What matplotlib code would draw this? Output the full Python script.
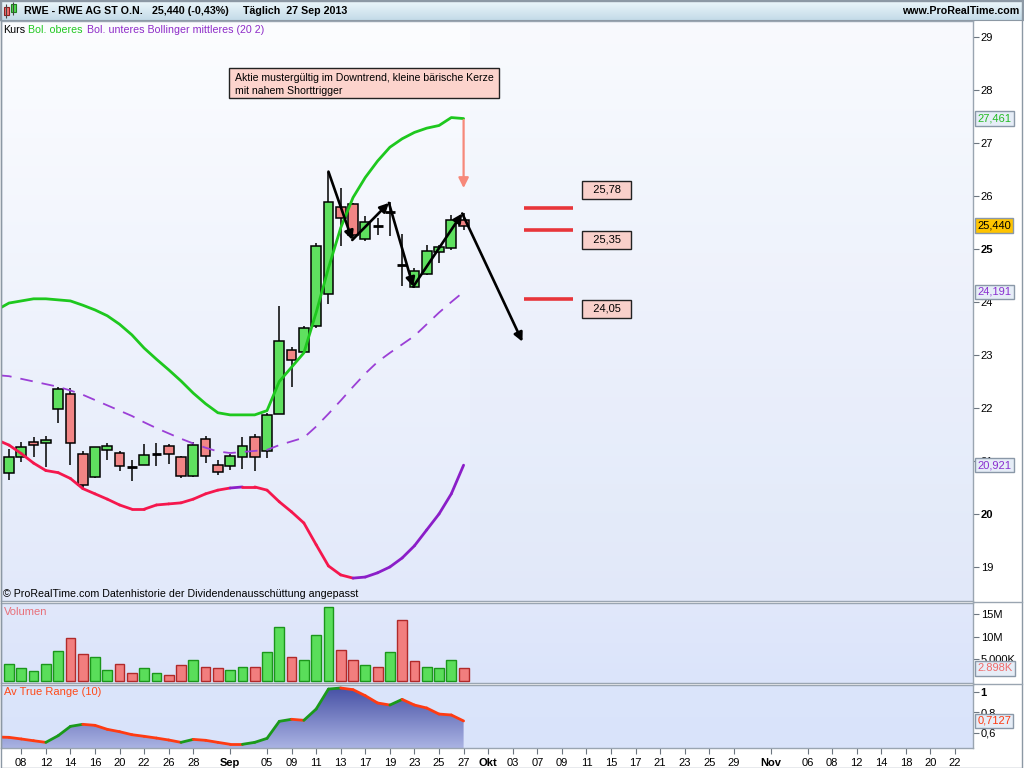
import numpy as np
import matplotlib
matplotlib.use("Agg")
import matplotlib.pyplot as plt
from matplotlib.collections import LineCollection
from matplotlib.patches import Rectangle, Polygon
from matplotlib.transforms import blended_transform_factory, offset_copy
from matplotlib.colors import LinearSegmentedColormap

plt.rcParams['font.family'] = ['Liberation Sans', 'DejaVu Sans']

# ---------------- data (trading days 07.08.2013 - 27.09.2013) ----------------
opens = [20.77, 21.08, 21.35, 21.33, 21.99, 22.26, 21.13, 20.69, 21.21, 21.15,
         20.89, 20.92, 21.14, 21.29, 21.07, 20.72, 21.41, 20.92, 20.90, 21.07,
         21.45, 21.19, 21.89, 23.09, 23.05, 23.54, 24.15, 25.79, 25.84, 25.18,
         25.44, 25.69, 24.69, 24.28, 24.52, 24.94, 25.01, 25.55]
highs = [21.22, 21.36, 21.46, 21.47, 22.39, 22.37, 21.19, 21.27, 21.34, 21.18,
         21.01, 21.32, 21.33, 21.32, 21.09, 21.36, 21.47, 21.01, 21.13, 21.45,
         21.50, 21.90, 23.92, 23.16, 23.55, 25.11, 26.46, 26.16, 25.86, 25.62,
         25.58, 25.89, 25.28, 24.65, 25.08, 25.07, 25.64, 25.67]
lows = [20.64, 20.99, 21.07, 20.89, 21.72, 20.92, 20.45, 20.67, 21.01, 20.82,
        20.63, 20.92, 20.91, 20.94, 20.67, 20.69, 20.96, 20.73, 20.83, 20.84,
        20.82, 21.05, 21.88, 22.40, 23.04, 23.50, 23.96, 25.06, 25.20, 25.16,
        25.26, 25.25, 24.30, 24.27, 24.50, 24.73, 24.98, 25.36]
closes = [21.08, 21.27, 21.30, 21.39, 22.35, 21.33, 20.55, 21.26, 21.28, 20.90,
          20.89, 21.11, 21.14, 21.13, 20.72, 21.31, 21.09, 20.79, 21.09, 21.28,
          21.07, 21.86, 23.26, 22.90, 23.50, 25.05, 25.88, 25.58, 25.26, 25.50,
          25.44, 25.69, 24.69, 24.59, 24.96, 25.03, 25.54, 25.44]
volumes_m = [3.8, 2.9, 2.4, 3.8, 6.7, 9.7, 6.1, 5.4, 2.65, 3.8,
             2.0, 2.9, 2.0, 1.5, 3.6, 4.7, 3.3, 3.1, 2.65, 3.3,
             3.3, 6.5, 12.2, 5.4, 4.9, 10.4, 16.5, 7.0, 4.9, 3.6,
             3.3, 6.5, 13.6, 4.5, 3.3, 3.1, 4.9, 2.898]
# indicator series start one day earlier (06.08.2013)
boll_upper = [23.85, 23.98, 24.02, 24.06, 24.06, 24.04, 24.02, 23.94, 23.85, 23.74,
              23.58, 23.38, 23.13, 22.92, 22.72, 22.51, 22.28, 22.08, 21.91, 21.87,
              21.87, 21.87, 21.95, 22.50, 22.77, 23.04, 23.80, 24.64, 25.40, 25.97,
              26.35, 26.66, 26.92, 27.08, 27.20, 27.28, 27.33, 27.48, 27.461]
boll_mid = [22.62, 22.60, 22.55, 22.50, 22.45, 22.40, 22.33, 22.25, 22.15, 22.05,
            21.95, 21.85, 21.73, 21.62, 21.52, 21.42, 21.33, 21.25, 21.18, 21.15,
            21.17, 21.19, 21.21, 21.30, 21.37, 21.44, 21.65, 21.89, 22.14, 22.40,
            22.65, 22.87, 23.04, 23.20, 23.36, 23.58, 23.80, 24.00, 24.191]
boll_lower = [21.40, 21.30, 21.14, 20.96, 20.82, 20.78, 20.67, 20.48, 20.38, 20.28,
              20.17, 20.09, 20.09, 20.17, 20.19, 20.21, 20.28, 20.38, 20.45, 20.49,
              20.51, 20.51, 20.45, 20.23, 20.04, 19.83, 19.42, 19.02, 18.85, 18.79,
              18.81, 18.89, 19.00, 19.17, 19.40, 19.70, 20.00, 20.38, 20.921]
# colour of each lower-band segment as seen in the chart (r = red, p = purple)
lower_seg_code = list("rrrrrrrrrrrrrrrrrrrprrrrrrrrrpppppppppp")[:38]
atr = [0.556, 0.553, 0.537, 0.520, 0.504, 0.569, 0.660, 0.680, 0.670, 0.631,
       0.608, 0.579, 0.563, 0.546, 0.527, 0.504, 0.533, 0.524, 0.504, 0.485,
       0.485, 0.504, 0.543, 0.709, 0.729, 0.719, 0.829, 1.024, 1.034, 1.018,
       0.959, 0.888, 0.868, 0.923, 0.868, 0.839, 0.780, 0.771, 0.7127]

tick_pos = [1, 3, 5, 7, 9, 11, 13, 15, 18, 21, 23, 25, 27, 29, 31, 33, 35, 37,
            39, 41, 43, 45, 47, 49, 51, 53, 55, 57, 59, 62, 65, 67, 69, 71, 73, 75, 77]
tick_lab = ['08', '12', '14', '16', '20', '22', '26', '28', 'Sep', '05', '09', '11', '13',
            '17', '19', '23', '25', '27', 'Okt', '03', '07', '09', '11', '15', '17', '21',
            '23', '25', '29', 'Nov', '06', '08', '12', '14', '18', '20', '22']

# drawn annotations
trend_x = [26.0, 27.94, 30.92, 32.90, 36.89, 41.79]
trend_y = [26.46, 25.17, 25.87, 24.29, 25.67, 23.25]
levels = [25.78, 25.35, 24.05]
level_labels = ['25,78', '25,35', '24,05']
note_lines = ['Aktie mustergültig im Downtrend, kleine bärische Kerze', 'mit nahem Shorttrigger']

# ---------------- figure ----------------
W, H = 1024, 768
fig = plt.figure(figsize=(W / 100, H / 100), dpi=100)
fig.patch.set_facecolor('white')


def ax_px(x0, y0, x1, y1):
    return fig.add_axes([x0 / W, 1 - y1 / H, (x1 - x0) / W, (y1 - y0) / H])


XL = (-0.65, 78.46)
idx = np.arange(len(closes))
bidx = np.arange(-1, len(closes))
grey = '#9aa5b1'


def gradient_bg(a, top, bottom):
    cm = LinearSegmentedColormap.from_list('g', [bottom, top])
    a.imshow(np.linspace(0, 1, 256).reshape(-1, 1), extent=[0, 1, 0, 1],
             transform=a.transAxes, cmap=cm, aspect='auto', origin='lower', zorder=0)


def style_axes(a):
    for s in a.spines.values():
        s.set_color(grey)
        s.set_linewidth(1.0)
    a.yaxis.tick_right()
    a.tick_params(axis='y', which='both', direction='out', length=4, width=0.8,
                  color='#6d7680', labelsize=8, pad=1.5, labelcolor='black')
    a.tick_params(axis='x', which='both', bottom=False, labelbottom=False)


# ---- header ----
hx = ax_px(0, 0, 1023, 20)
hx.set_xlim(0, 1023)
hx.set_ylim(20, 0)
cmh = LinearSegmentedColormap.from_list('h', ['#c4dbe8', '#eef8fc'])
hx.imshow(np.linspace(0, 1, 64).reshape(-1, 1), extent=[0, 1, 0, 1], transform=hx.transAxes,
          cmap=cmh, aspect='auto', origin='lower')
for s in hx.spines.values():
    s.set_color('#8c98a4')
hx.set_xticks([])
hx.set_yticks([])
hx.vlines([6, 13], [4, 2], [18, 15], color='#444444', lw=0.8)
hx.add_patch(Rectangle((3.5, 7), 5, 8, fc='#f07070', ec='#902020', lw=0.8))
hx.add_patch(Rectangle((10.5, 4), 5, 8, fc='#50d850', ec='#208020', lw=0.8))
hfs = 7.7
hx.text(24, 11, 'RWE - RWE AG ST O.N.', fontsize=hfs, fontweight='bold', va='center')
hx.text(152, 11, '25,440 (-0,43%)', fontsize=hfs, fontweight='bold', va='center')
hx.text(243, 11, 'Täglich  27 Sep 2013', fontsize=hfs, fontweight='bold', va='center')
hx.text(1019, 11, 'www.ProRealTime.com', fontsize=hfs, fontweight='bold', va='center', ha='right')

# ---- main price panel ----
ax = ax_px(1, 21, 973, 601)
gradient_bg(ax, '#fcfdff', '#e2e9fa')
ax.axvspan(37.5, XL[1], color='#d8e2f8', alpha=0.08, lw=0, zorder=0.5)
style_axes(ax)

o = np.array(opens); c = np.array(closes); h = np.array(highs); l = np.array(lows)
ax.vlines(idx, l, h, color='black', lw=1.1, zorder=3)
up = c > o
dn = c < o
dj = c == o
ax.bar(idx[up], (c - o)[up], bottom=o[up], width=0.8, color='#5fe05f',
       edgecolor='black', lw=1.1, zorder=4)
ax.bar(idx[dn], (o - c)[dn], bottom=c[dn], width=0.8, color='#f28585',
       edgecolor='black', lw=1.1, zorder=4)
ax.hlines(c[dj], idx[dj] - 0.4, idx[dj] + 0.4, color='black', lw=2.0, zorder=4)

ax.plot(bidx, boll_upper, color='#1ec81e', lw=2.0, zorder=5, solid_capstyle='round')
ax.plot(bidx, boll_mid, color='#9b3fd6', lw=1.3, dashes=(7, 5), zorder=5)
pts = np.column_stack([bidx, boll_lower])
segs = np.stack([pts[:-1], pts[1:]], axis=1)
seg_cols = ['#f5174d' if k == 'r' else '#8b1ec8' for k in lower_seg_code]
ax.add_collection(LineCollection(segs, colors=seg_cols, lw=2.0, zorder=5, capstyle='round'))

ax.set_xlim(*XL)
ax.set_ylim(18.358, 29.302)
ax.set_yticks(range(19, 30))
ax.set_yticklabels([str(v) for v in range(19, 30)])
for t in ax.get_yticklabels():
    if t.get_text() in ('25', '20'):
        t.set_fontweight('bold')

# trend arrows
for k in range(len(trend_x) - 1):
    ax.annotate('', xy=(trend_x[k + 1], trend_y[k + 1]), xytext=(trend_x[k], trend_y[k]),
                arrowprops=dict(arrowstyle='-|>', color='black', lw=1.9, mutation_scale=13,
                                shrinkA=0, shrinkB=0), zorder=7)
# salmon arrow above last candle
ax.annotate('', xy=(idx[-1], 26.15), xytext=(idx[-1], 27.434),
            arrowprops=dict(arrowstyle='-|>', color='#f7897a', lw=1.6, mutation_scale=15,
                            shrinkA=0, shrinkB=0), zorder=7)

# note box
ax.add_patch(Rectangle((17.89, 27.849), 22.03, 0.566, fc='#fcd3cc', ec='#222222', lw=1.0, zorder=7))
ax.text(18.37, 28.22, note_lines[0], fontsize=7.6, va='center', ha='left', zorder=8)
ax.text(18.37, 27.99, note_lines[1], fontsize=7.6, va='center', ha='left', zorder=8)

# price levels
for lv, lab, dy in zip(levels, level_labels, [17.7, -9.5, -9.6]):
    ax.hlines(lv, 41.95, 45.93, color='#e8353a', lw=2.6, zorder=6)
    tr = offset_copy(ax.transData, fig=fig, x=0, y=dy, units='dots')
    ax.text(48.65, lv, '  ' + lab + '  ', transform=tr, fontsize=8, ha='center', va='center',
            zorder=8, bbox=dict(boxstyle='square,pad=0.38', fc='#f9d0ca', ec='#222222', lw=1.0))

# right-axis value boxes
btr = blended_transform_factory(ax.transAxes, ax.transData)
for val, txt, col, fc in [(27.461, '27,461', '#22bb22', '#e6edf7'),
                          (25.44, '25,440', 'black', '#ffc400'),
                          (24.191, '24,191', '#8a2fd0', '#e6edf7'),
                          (20.921, '20,921', '#8a2fd0', '#e6edf7')]:
    ax.text(1.0045, val, txt, transform=btr, fontsize=8, color=col, ha='left', va='center',
            clip_on=False, zorder=10,
            bbox=dict(boxstyle='square,pad=0.2', fc=fc, ec='#8a98a8', lw=1.0))

# ---- volume panel ----
axv = ax_px(1, 603, 973, 683)
gradient_bg(axv, '#e1e8fb', '#dbe4fa')
style_axes(axv)
vol = np.array(volumes_m) * 1e6
prev_close = np.concatenate([[opens[0]], closes[:-1]])
vup = c >= prev_close
axv.bar(idx, vol, width=0.8, color=np.where(vup, '#5ade5a', '#f27e7e'),
        edgecolor=np.where(vup, '#1b961b', '#b02a2a'), lw=1.0, zorder=3)
axv.set_xlim(*XL)
axv.set_ylim(-0.34e6, 17.5e6)
axv.set_yticks([5e6, 10e6, 15e6])
axv.set_yticklabels(['5.000K', '10M', '15M'])
btv = blended_transform_factory(axv.transAxes, axv.transData)
axv.text(1.0045, vol[-1], '2.898K', transform=btv, fontsize=8, color='#f06a6a', ha='left',
         va='center', clip_on=False, zorder=10,
         bbox=dict(boxstyle='square,pad=0.2', fc='#e6edf7', ec='#8a98a8', lw=1.0))

# ---- ATR panel ----
axa = ax_px(1, 685, 973, 748)
gradient_bg(axa, '#dbe5fb', '#d9e3fa')
style_axes(axa)
ylo, yhi = 0.449, 1.0634
av = np.array(atr)
verts = [(bidx[0], ylo)] + list(zip(bidx, av)) + [(bidx[-1], ylo)]
poly = Polygon(verts, closed=True, fc='none', ec='none')
axa.add_patch(poly)
cma = LinearSegmentedColormap.from_list('a', ['#aab3e3', '#4650a5'])
im = axa.imshow(np.linspace(0, 1, 256).reshape(-1, 1), extent=[bidx[0], bidx[-1], ylo, 1.04],
                aspect='auto', cmap=cma, origin='lower', zorder=1)
im.set_clip_path(poly)
apts = np.column_stack([bidx, av])
asegs = np.stack([apts[:-1], apts[1:]], axis=1)
acols = ['#1a9a1a' if av[k + 1] > av[k] else '#ff3b12' for k in range(len(av) - 1)]
axa.add_collection(LineCollection(asegs, colors=acols, lw=2.0, zorder=3, capstyle='round'))
axa.set_xlim(*XL)
axa.set_ylim(ylo, yhi)
axa.set_yticks([0.6, 0.8, 1.0])
axa.set_yticklabels(['0,6', '0,8', '1'])
axa.get_yticklabels()[2].set_fontweight('bold')
bta = blended_transform_factory(axa.transAxes, axa.transData)
axa.text(1.0045, av[-1], '0,7127', transform=bta, fontsize=8, color='#ff3b12', ha='left',
         va='center', clip_on=False, zorder=10,
         bbox=dict(boxstyle='square,pad=0.2', fc='#e6edf7', ec='#8a98a8', lw=1.0))
axa.tick_params(axis='x', bottom=True, labelbottom=True, direction='out', length=4,
                color='#6d7680', labelsize=8, pad=3)
axa.set_xticks(tick_pos)
axa.set_xticklabels(tick_lab)
for t in axa.get_xticklabels():
    if t.get_text() in ('Sep', 'Okt', 'Nov'):
        t.set_fontweight('bold')

# ---- panel labels / legend texts ----
def ftxt(x, y, s, **kw):
    fig.text(x / W, 1 - y / H, s, va='center', ha='left', **kw)

ftxt(3, 30, 'Kurs', fontsize=7.7, color='black')
ftxt(28, 30, 'Bol. oberes', fontsize=7.7, color='#22c822')
ftxt(87, 30, 'Bol. unteres Bollinger mittleres (20 2)', fontsize=7.7, color='#8e2cc8')
ftxt(3, 594, '© ProRealTime.com Datenhistorie der Dividendenausschüttung angepasst',
     fontsize=7.7, color='black')
ftxt(4, 612, 'Volumen', fontsize=8, color='#e8707a')
ftxt(4, 692, 'Av True Range (10)', fontsize=8, color='#ff4a1a')

# outer frame & separators in the scale area
for yy in (602, 683.5):
    fig.add_artist(plt.Line2D([973 / W, 1022 / W], [1 - yy / H, 1 - yy / H], color=grey, lw=1.0))
fig.add_artist(Rectangle((0.5 / W, 0.5 / H), 1021.5 / W, 767 / H, transform=fig.transFigure,
                         fill=False, ec='#8c98a4', lw=1.0))

fig.savefig('out.png', dpi=100)
